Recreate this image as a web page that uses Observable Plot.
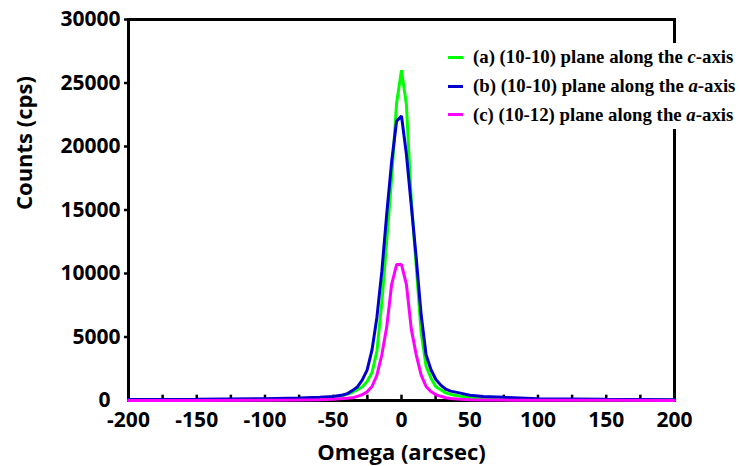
<!DOCTYPE html>
<html>
<head>
<meta charset="utf-8">
<script src="https://cdn.jsdelivr.net/npm/d3@7"></script>
<script src="https://cdn.jsdelivr.net/npm/@observablehq/plot@0.6"></script>
<style>
  html, body { margin: 0; padding: 0; background: #fff; }
  #wrap { position: relative; width: 740px; height: 466px; overflow: hidden; }
  #legend { position: absolute; left: 444px; top: 43px; width: 296px; background: #fff;
    font-family: "Liberation Serif", "Times New Roman", serif; font-weight: bold; font-size: 18.8px; color: #000; }
  #legend .row { display: flex; align-items: center; height: 28.8px; white-space: nowrap; }
  #legend .sw { width: 15px; height: 3px; margin-left: 4px; margin-right: 10px; flex: none; }
</style>
</head>
<body>
<div id="wrap"><div id="legend"></div></div>
<script>
// Omega (arcsec) sample positions
const omega = [-200,-150,-100,-75,-60,-50,-43.2,-39.6,-36,-32.4,-28.8,-25.2,-21.6,-18,-14.4,-10.8,-7.2,-3.6,0,3.6,7.2,10.8,14.4,18,21.6,25.2,28.8,32.4,36,43.2,50,60,75,100,150,200];
// (a) (10-10) plane along the c-axis
const countsA = [40,50,80,130,200,280,380,500,650,850,1060,1500,2200,3900,7730,12600,17500,23400,26000,23300,15700,10570,5350,2720,1760,1090,840,600,480,330,250,180,130,80,55,40];
// (b) (10-10) plane along the a-axis
const countsB = [80,100,140,190,260,320,430,540,780,1060,1610,2390,3980,6560,10180,14710,18820,22000,22400,19390,15330,11220,6750,3600,2420,1650,1210,890,740,580,420,320,250,140,90,55];
// (c) (10-12) plane along the a-axis
const countsC = [0,5,20,40,60,100,150,180,210,330,450,680,1100,2000,3600,5800,9150,10700,10700,9150,5600,3600,2000,1100,700,450,330,220,160,100,60,40,30,20,10,5];

const seriesNames = ["(a) (10-10) plane along the ", "(b) (10-10) plane along the ", "(c) (10-12) plane along the "];
const seriesAxis = ["c", "a", "a"];
const seriesColors = ["#00ff00", "#0000cc", "#ff00ff"];

const xLabelTicks = [-200,-150,-100,-50,0,50,100,150,200];
const xMinorTicks = [-175,-150,-125,-100,-75,-50,-25,0,25,50,75,100,125,150,175];
const yTicks = [5000,10000,15000,20000,25000,30000];
const yZeroTick = [0];

const allSeries = [countsA, countsB, countsC];
const rows = [];
allSeries.forEach((vals, i) => vals.forEach((v, j) => rows.push({omega: omega[j], counts: v, s: i})));

const chart = Plot.plot({
  width: 740,
  height: 466,
  marginLeft: 128,
  marginRight: 66,
  marginTop: 19,
  marginBottom: 66,
  style: { fontFamily: "'Open Sans', sans-serif", fontSize: "21px", fontWeight: "bold", color: "#000", background: "#fff", overflow: "visible" },
  x: { domain: [-200, 200] },
  y: { domain: [0, 30000] },
  marks: [
    Plot.axisY({ ticks: yTicks, tickSize: 4, tickPadding: 4, tickFormat: d => String(d), label: null, strokeWidth: 2.5 }),
    Plot.axisY({ ticks: yZeroTick, tickSize: 0, tickPadding: 18, tickFormat: d => String(d), label: null }),
    Plot.axisX({ ticks: xLabelTicks, tickSize: 0, tickPadding: 12, tickFormat: d => String(d), label: null }),
    Plot.ruleX(xMinorTicks, { x: d => d, y1: 0, y2: 420, stroke: "#000", strokeWidth: 2.5 }),
    Plot.frame({ stroke: "#000", strokeWidth: 3 }),
    ...allSeries.map((vals, i) => Plot.line(rows.filter(r => r.s === i), { x: "omega", y: "counts", stroke: seriesColors[i], strokeWidth: 3, strokeLinejoin: "miter" })),
    Plot.text(["Omega (arcsec)"], { frameAnchor: "bottom", dy: 59, fontSize: 22, fontWeight: "bold", fill: "#000" }),
    Plot.text(["Counts (cps)"], { frameAnchor: "left", dx: -104, rotate: -90, fontSize: 22, fontWeight: "bold", fill: "#000" })
  ]
});
document.getElementById("wrap").prepend(chart);

const legend = document.getElementById("legend");
seriesNames.forEach((name, i) => {
  const row = document.createElement("div");
  row.className = "row";
  const sw = document.createElement("span");
  sw.className = "sw";
  sw.style.background = seriesColors[i];
  const txt = document.createElement("span");
  txt.append(name);
  const it = document.createElement("i");
  it.textContent = seriesAxis[i];
  txt.append(it, "-axis");
  row.append(sw, txt);
  legend.append(row);
});
</script>
</body>
</html>
